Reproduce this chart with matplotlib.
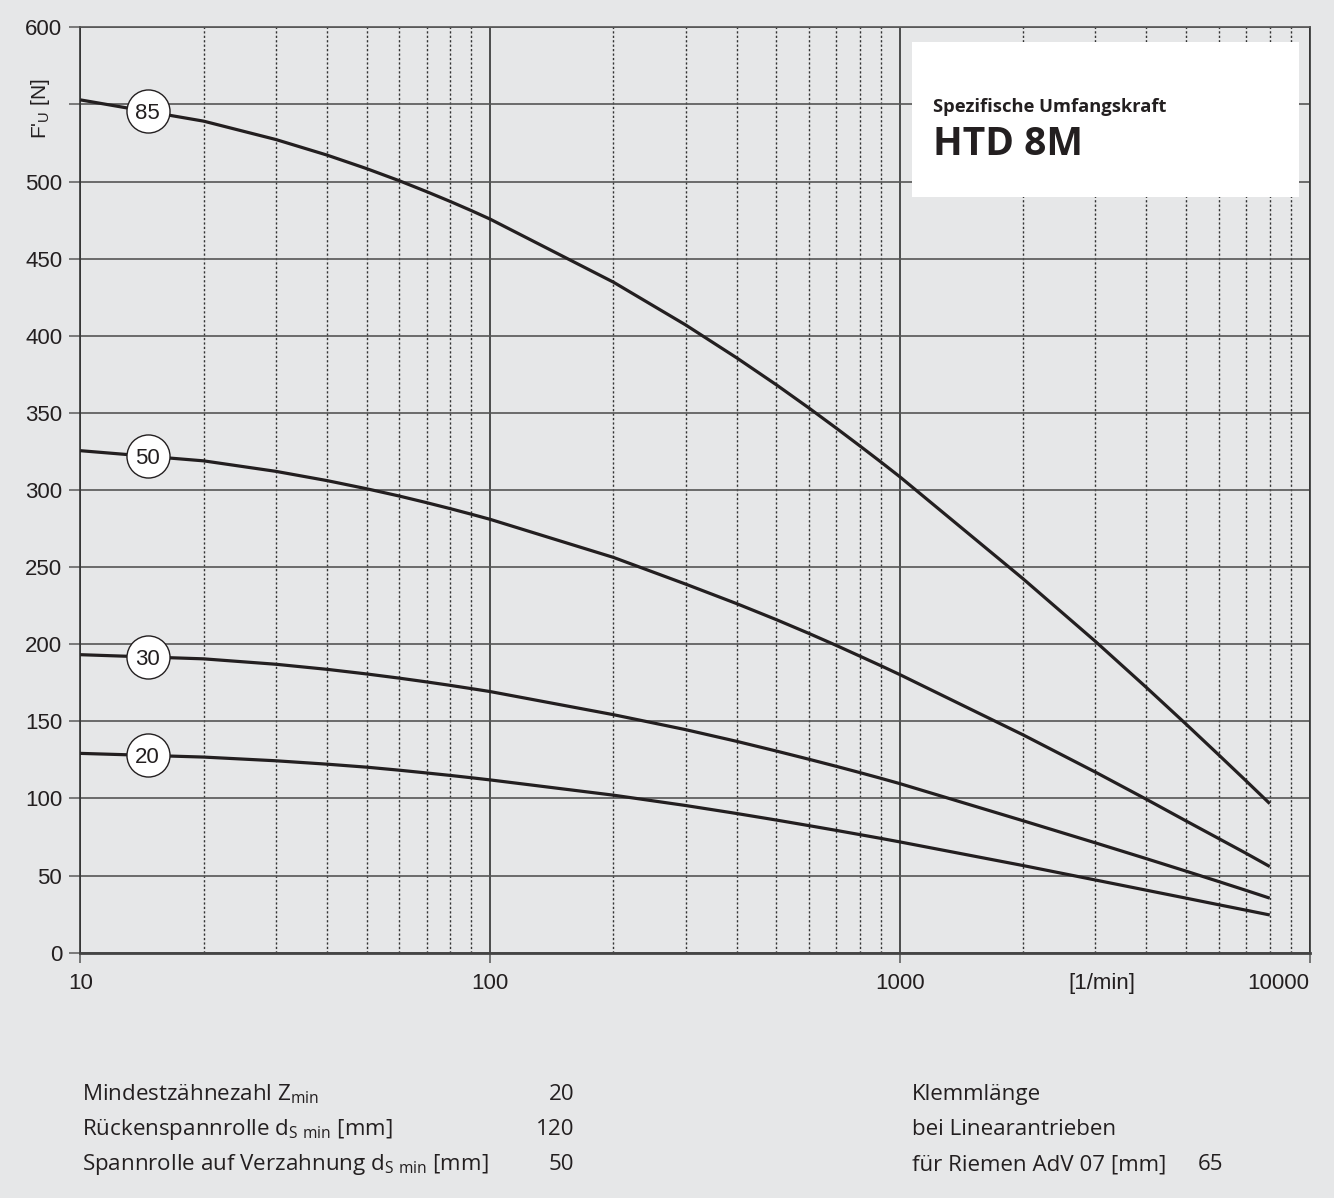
import numpy as np
import matplotlib
matplotlib.use("Agg")
import matplotlib.pyplot as plt
from matplotlib.ticker import LogLocator, NullFormatter
from matplotlib.patches import Rectangle

# ---------------- data ----------------
rpm = [10, 20, 30, 40, 50, 60, 70, 80, 90, 100, 200, 300, 400, 500, 600, 700, 800, 900,
       1000, 2000, 3000, 4000, 5000, 6000, 7000, 8000]
f85 = [553, 539.2, 527.3, 517.2, 508.4, 500.6, 493.5, 487.1, 481.2, 475.7, 434.8, 407.1, 385.7,
       368.2, 353.2, 340.1, 328.5, 318.1, 308.6, 242.4, 201.9, 171.9, 148.1, 128.3, 111.4, 96.6]
f50 = [325.5, 318.9, 312.1, 306.1, 300.8, 296.1, 291.8, 287.9, 284.3, 281.0, 256.3, 239.0, 226.3,
       215.9, 207.0, 199.2, 192.2, 186.0, 180.3, 141.2, 117.1, 99.4, 85.35, 74.0, 64.4, 55.8]
f30 = [193.2, 190.5, 187.0, 183.7, 180.7, 178.0, 175.55, 173.3, 171.2, 169.3, 154.3, 144.6, 137.0,
       130.7, 125.4, 120.8, 116.7, 113.0, 109.6, 85.5, 71.2, 60.9, 52.8, 46.1, 40.35, 35.3]
f20 = [129.2, 126.8, 124.4, 122.2, 120.25, 118.3, 116.5, 114.9, 113.4, 112.0, 102.1, 95.4, 90.2,
       85.95, 82.35, 79.25, 76.5, 74.05, 71.8, 56.45, 47.1, 40.45, 35.3, 31.05, 27.5, 24.4]
series = [f85, f50, f30, f20]
curve_labels = ["85", "50", "30", "20"]
label_rpm = 14.6

x_ticks = [10, 100, 1000, 10000]
x_ticklabels = ["10", "100", "1000", "10000"]
y_ticks = [0, 50, 100, 150, 200, 250, 300, 350, 400, 450, 500, 550, 600]
y_ticklabels = ["0", "50", "100", "150", "200", "250", "300", "350", "400", "450", "500", "", "600"]
x_unit = "[1/min]"
y_label = "F'$_{\\mathsf{U}}$ [N]"
box_title = "Spezifische Umfangskraft"
box_name = "HTD 8M"
left_lines = ["Mindestzähnezahl Z$_{\\mathrm{min}}$",
              "Rückenspannrolle d$_{\\mathrm{S\\ min}}$ [mm]",
              "Spannrolle auf Verzahnung d$_{\\mathrm{S\\ min}}$ [mm]"]
left_values = ["20", "120", "50"]
right_lines = ["Klemmlänge", "bei Linearantrieben", "für Riemen AdV 07 [mm]"]
right_values = ["", "", "65"]

# ---------------- style ----------------
BG = "#e6e7e8"
INK = "#231f20"
plt.rcParams["mathtext.fontset"] = "custom"
plt.rcParams["mathtext.rm"] = "Open Sans"
plt.rcParams["mathtext.sf"] = "Liberation Sans"

W, H = 1334, 1198
fig = plt.figure(figsize=(W / 100, H / 100), dpi=100, facecolor=BG)
x0, x1, y0, y1 = 80.3, 1309.5, 952.6, 27.4
ax = fig.add_axes([x0 / W, 1 - y0 / H, (x1 - x0) / W, (y0 - y1) / H], facecolor=BG)

ax.set_xscale("log")
ax.set_xlim(10, 10000)
ax.set_ylim(0, 600)
ax.set_axisbelow(True)

ax.set_yticks(y_ticks)
ax.set_yticklabels(y_ticklabels, family="Liberation Sans", fontsize=16, color=INK)
ax.set_xticks(x_ticks)
ax.set_xticklabels(x_ticklabels, family="Liberation Sans", fontsize=16, color=INK)
ax.xaxis.set_minor_locator(LogLocator(base=10, subs=np.arange(2, 10)))
ax.xaxis.set_minor_formatter(NullFormatter())

ax.yaxis.grid(True, color="#555555", lw=1.2)
ax.xaxis.grid(True, which="major", color="#222222", lw=1.1)
ax.xaxis.grid(True, which="minor", color="#333333", lw=1.0, ls=(0, (1.6, 1.6)))

ax.tick_params(axis="y", length=8, width=1.2, color="#666666", pad=5)
ax.tick_params(axis="x", which="major", length=7.5, width=1.1, color="#555555", pad=7)
ax.tick_params(axis="x", which="minor", length=0)

for s in ["left", "right"]:
    ax.spines[s].set_color("#333333")
    ax.spines[s].set_linewidth(1.2)
ax.spines["top"].set_color("#555555")
ax.spines["top"].set_linewidth(1.2)
ax.spines["bottom"].set_color("#444444")
ax.spines["bottom"].set_linewidth(2.0)

# last x tick label right aligned to the right spine
ax.get_xticklabels()[-1].set_horizontalalignment("right")

# curves
for f in series:
    ax.plot(rpm, f, color=INK, lw=2.3, solid_capstyle="butt", solid_joinstyle="round", zorder=3)

# circle labels
lx = np.log10(rpm)
for f, lab in zip(series, curve_labels):
    yv = np.interp(np.log10(label_rpm), lx, f)
    ax.plot([label_rpm], [yv], "o", ms=31, mfc="white", mec=INK, mew=1.0, zorder=4)
    ax.text(label_rpm, yv, lab, ha="center", va="center_baseline", fontsize=16,
            family="Liberation Sans", color=INK, zorder=5)

# axis unit and y label
fig.text(1102 / W, 1 - 983 / H, x_unit, ha="center", va="center", fontsize=16,
         family="Liberation Sans", color=INK)
fig.text(40 / W, 1 - 108 / H, y_label, ha="center", va="center", rotation=90, fontsize=15,
         family="Liberation Sans", color=INK)

# white title box
fig.add_artist(Rectangle((912 / W, 1 - 197 / H), (1299 - 912) / W, (197 - 42) / H,
                         transform=fig.transFigure, facecolor="white", edgecolor="none", zorder=5))

renderer = fig.canvas.get_renderer()


def fit(t, target_px):
    w = t.get_window_extent(renderer).width
    t.set_fontsize(t.get_fontsize() * target_px / w)


t1 = fig.text(933 / W, 1 - 112 / H, box_title, ha="left", va="baseline", fontsize=14,
              family="Open Sans", weight="bold", color=INK, zorder=6)
fit(t1, 235)
t2 = fig.text(933 / W, 1 - 155 / H, box_name, ha="left", va="baseline", fontsize=28,
              family="Open Sans", weight="bold", color=INK, zorder=6)
fit(t2, 150)

# bottom notes
baselines = [1100, 1135, 1170]
left_texts = []
for i, txt in enumerate(left_lines):
    left_texts.append(fig.text(82 / W, 1 - baselines[i] / H, txt, ha="left", va="baseline",
                               fontsize=15, family="Open Sans", color=INK))
fit(left_texts[2], 408)
fs = left_texts[2].get_fontsize()
for t in left_texts:
    t.set_fontsize(fs)
for i, val in enumerate(left_values):
    fig.text(574 / W, 1 - baselines[i] / H, val, ha="right", va="baseline", fontsize=fs,
             family="Open Sans", color=INK)
for i, (txt, val) in enumerate(zip(right_lines, right_values)):
    fig.text(912 / W, 1 - baselines[i] / H, txt, ha="left", va="baseline", fontsize=fs,
             family="Open Sans", color=INK)
    if val:
        fig.text(1223 / W, 1 - baselines[i] / H, val, ha="right", va="baseline", fontsize=fs,
                 family="Open Sans", color=INK)

fig.savefig("out.png", dpi=100, facecolor=BG)
